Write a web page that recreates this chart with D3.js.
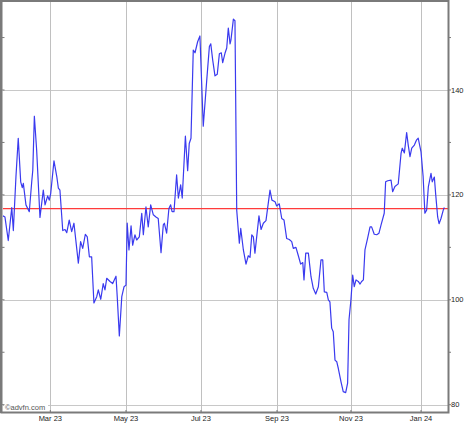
<!DOCTYPE html>
<html><head><meta charset="utf-8">
<script src="https://cdn.jsdelivr.net/npm/d3@7"></script>
<style>
body{margin:0;background:#fff;}
svg{display:block;}
text{font-family:"Liberation Sans",Arial,sans-serif;}
</style></head>
<body>
<svg id="c" width="474" height="424"></svg>
<script>
// trading-day index (approx.) and closing price
const days = [0,1.1,3.0,5.0,5.9,7.4,8.7,10.1,11.0,11.6,13.1,15.0,16.4,17.0,17.9,19.2,21.1,23.0,24.0,25.5,26.4,27.2,29.1,30.7,31.6,32.5,34.1,35.4,36.4,37.8,39.2,40.5,43.0,44.3,45.5,47.0,48.1,49.3,50.6,51.9,53.5,54.4,55.8,57.2,58.2,59.2,61.1,62.6,64.5,65.2,66.4,67.8,69.1,70.2,70.9,71.9,73.1,74.0,75.3,76.3,77.8,79.2,80.1,81.6,82.9,84.3,85.8,87.3,88.6,90.2,91.5,92.1,93.4,94.7,95.7,96.5,97.6,99.1,100.1,101.4,102.3,104.1,105.4,106.3,107.3,108.6,109.6,111.1,112.4,114.3,116.3,117.8,118.6,119.7,121.0,122.3,123.5,124.6,125.4,126.7,127.7,128.6,129.6,130.1,131.5,132.4,133.4,134.9,135.7,137.2,138.7,140.0,141.0,142.0,142.9,143.8,146.1,147.3,148.6,150.1,152.4,153.5,155.3,156.2,157.7,159.1,160.4,161.9,163.4,164.8,165.7,167.2,168.5,169.9,171.1,171.8,172.8,174.3,175.8,177.1,178.5,180.0,181.5,182.5,183.4,184.8,185.7,186.6,187.6,188.5,189.5,190.5,191.4,192.9,194.2,195.6,196.7,197.5,198.6,199.6,200.5,201.5,202.8,203.8,204.7,205.7,206.6,208.1,209.5,210.4,211.9,213.3,214.6,215.8,217.6,218.4,219.6,221.5,222.4,223.7,225.6,227.2,227.9,229.1,230.4,231.3,232.3,233.3,234.8,236.1,237.0,238.6,239.8,240.8,241.8,242.8,244.3,245.0,246.2,247.0,248.1,248.9,250.0,251.3,251.9];
const prices = [116.0,115.8,111.3,117.6,113.2,123.5,130.8,122.5,121.4,122.2,118.1,116.8,122.5,124.7,135.0,128.6,115.7,120.9,118.1,119.8,119.0,120.2,126.5,123.5,121.3,120.9,113.2,113.4,112.8,115.2,113.0,114.6,107.0,111.1,109.8,112.5,112.0,108.2,108.2,99.4,100.6,101.9,100.1,103.1,101.9,104.1,103.5,103.1,104.5,100.6,93.1,100.6,102.5,102.8,114.6,109.5,114.1,110.4,112.4,111.4,112.0,116.5,112.4,117.7,113.9,118.1,116.2,115.8,115.5,109.0,114.3,114.6,112.7,117.4,118.1,116.8,116.8,123.8,119.4,121.9,119.4,131.2,124.6,129.8,130.8,147.6,147.1,149.2,150.3,133.1,141.9,148.3,148.8,145.7,142.7,143.0,146.9,147.1,145.2,147.0,148.0,151.8,148.8,149.5,153.5,153.2,117.1,110.8,113.6,109.5,106.8,108.4,108.1,112.4,112.0,108.9,116.0,113.4,114.6,115.1,120.9,119.0,118.7,117.9,118.3,115.5,115.2,111.7,111.5,111.1,109.8,110.0,108.5,106.8,107.1,103.8,108.9,108.9,104.4,102.2,101.1,102.5,107.6,107.6,101.5,101.4,100.0,99.6,94.6,93.9,88.5,88.2,86.9,84.4,82.5,82.3,84.1,96.2,100.0,104.7,102.5,103.8,103.5,103.0,103.5,103.8,109.5,111.7,113.9,113.9,112.5,112.4,112.7,114.3,116.5,122.5,122.7,122.8,120.6,121.6,122.1,127.9,128.9,128.0,131.9,129.5,127.3,128.9,129.5,130.5,130.8,128.2,123.5,116.5,117.1,121.6,124.1,122.5,123.4,120.0,115.8,114.5,115.5,117.1,117.6];
const refLevel = 117.4;
const xTickLabels = ["Mar 23","May 23","Jul 23","Sep 23","Nov 23","Jan 24"];
const xTickDays = [27,70.2,113,156.4,198.6,238.6];
const yMajor = [80,100,120,140];
const yMinor = [90,110,130,150];

const svg = d3.select("#c");
const L = 3, R = 448, T = 2, B = 412;
const x = d3.scaleLinear().domain([0,254]).range([L,R]);
const y = d3.scaleLinear().domain([80,140]).range([404.7,90]);

// gridlines
const g = svg.append("g");
g.selectAll("line.h").data(yMajor).join("line")
  .attr("x1",L).attr("x2",R).attr("y1",d=>Math.round(y(d))+0.5).attr("y2",d=>Math.round(y(d))+0.5)
  .attr("stroke","#c8c8c8").attr("stroke-width",1);
g.selectAll("line.v").data(xTickDays).join("line")
  .attr("x1",d=>Math.round(x(d))+0.5).attr("x2",d=>Math.round(x(d))+0.5).attr("y1",T).attr("y2",B)
  .attr("stroke","#c0c0c0").attr("stroke-width",1);

// reference line
svg.append("line").attr("x1",L).attr("x2",R)
  .attr("y1",y(refLevel)).attr("y2",y(refLevel))
  .attr("stroke","#ff3b3b").attr("stroke-width",1.2);

// price line
const line = d3.line().x((d,i)=>x(days[i])).y(d=>y(d));
svg.append("path").datum(prices).attr("d",line)
  .attr("fill","none").attr("stroke","#3a3aef").attr("stroke-width",1.2)
  .attr("stroke-linejoin","round");

// watermark
svg.append("rect").attr("x",4).attr("y",402).attr("width",44).attr("height",9).attr("fill","#fff");
svg.append("text").attr("x",5).attr("y",409.5).attr("font-size",7.5).attr("fill","#555").text("\u00A9advfn.com");

// frame
svg.append("rect").attr("x",1.5).attr("y",1).attr("width",R-1).attr("height",B-0.5)
  .attr("fill","none").attr("stroke","#7a7a7a").attr("stroke-width",2);
svg.append("line").attr("x1",1).attr("x2",1).attr("y1",0).attr("y2",B+1)
  .attr("stroke","#7a7a7a").attr("stroke-width",2);

// y axis ticks and labels (right)
const ticks = svg.append("g");
ticks.selectAll("line.ym").data(yMajor.concat(yMinor)).join("line")
  .attr("x1",R).attr("x2",R+3).attr("y1",d=>y(d)).attr("y2",d=>y(d))
  .attr("stroke","#7a7a7a");
ticks.selectAll("line.yl").data(yMinor.concat(yMajor)).join("line")
  .attr("x1",L-1).attr("x2",L+1.5).attr("y1",d=>y(d)).attr("y2",d=>y(d))
  .attr("stroke","#7a7a7a");
ticks.selectAll("text.yl").data(yMajor).join("text")
  .attr("x",R+3).attr("y",d=>y(d)+2.5).attr("font-size",7.5).attr("fill","#222").text(d=>d);

// x axis ticks and labels
ticks.selectAll("line.xt").data(xTickDays).join("line")
  .attr("x1",d=>x(d)).attr("x2",d=>x(d)).attr("y1",B-2).attr("y2",B+1)
  .attr("stroke","#7a7a7a");
ticks.selectAll("text.xl").data(xTickLabels).join("text")
  .attr("x",(d,i)=>x(xTickDays[i])).attr("y",421).attr("text-anchor","middle")
  .attr("font-size",7.5).attr("fill","#222").text(d=>d);
</script>
</body></html>
